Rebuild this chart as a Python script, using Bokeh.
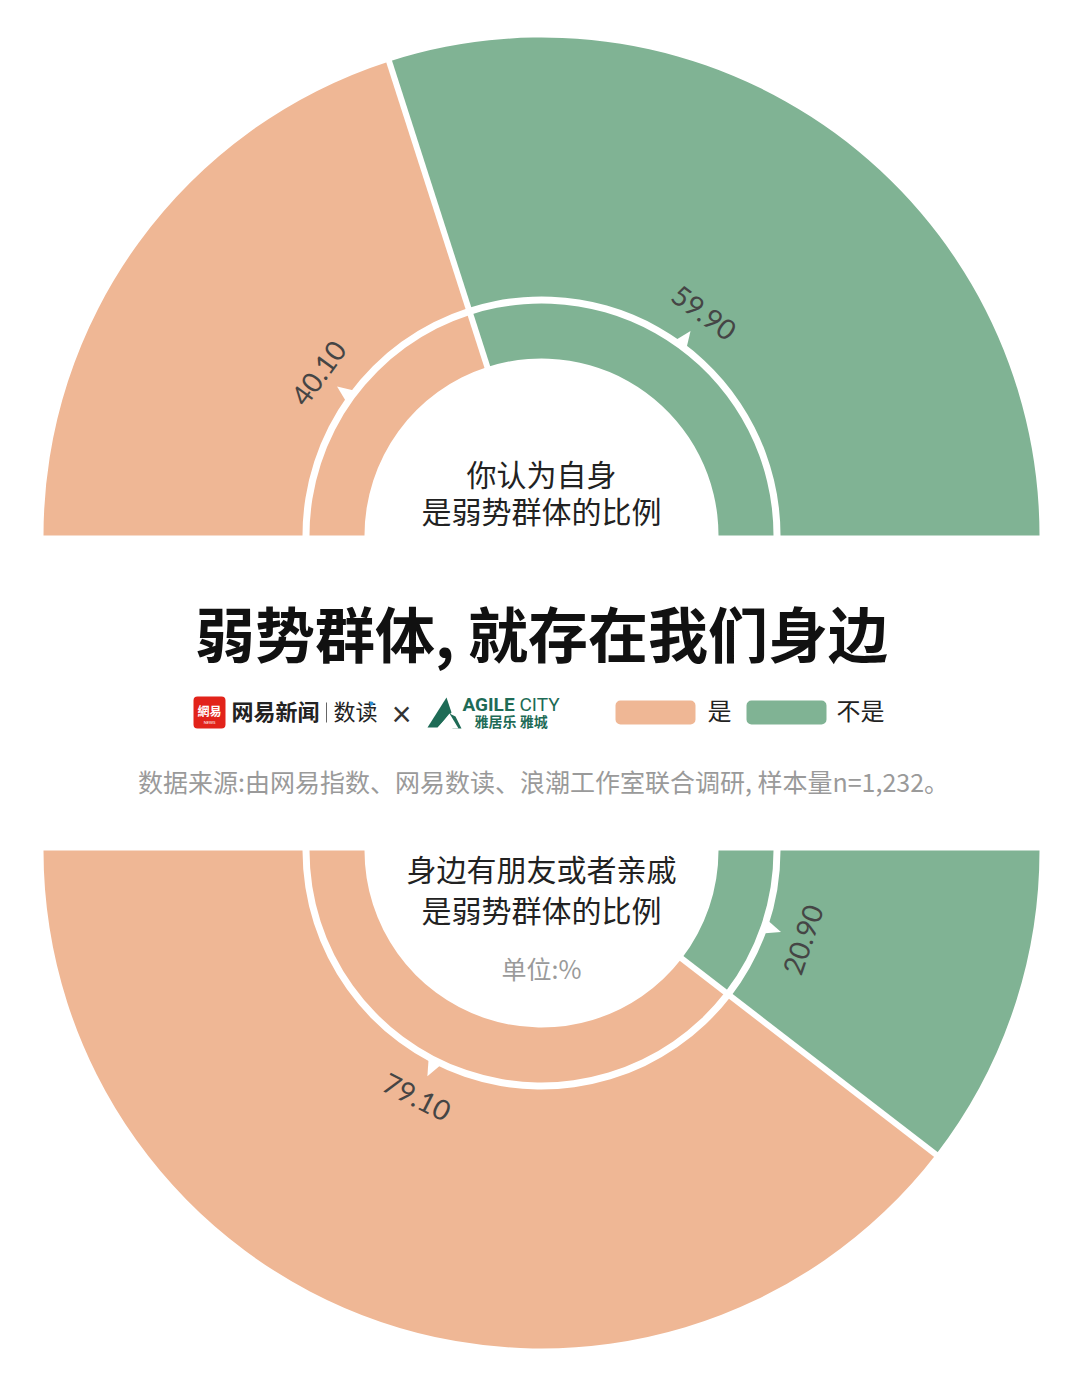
import math
from bokeh.plotting import figure
from bokeh.models import Range1d
from bokeh.core.properties import value
from bokeh.embed import file_html
from bokeh.resources import INLINE

# ---------------- data ----------------
categories = ["是", "不是"]
colors = ["#EFB795", "#80B394"]
q1_lines = ["你认为自身", "是弱势群体的比例"]
q1_values = [40.10, 59.90]
q2_lines = ["身边有朋友或者亲戚", "是弱势群体的比例"]
q2_values = [79.10, 20.90]
title = "弱势群体, 就存在我们身边"
source_text = "数据来源:由网易指数、网易数读、浪潮工作室联合调研, 样本量n=1,232。"
unit_text = "单位:%"

# ---------------- figure ----------------
W, H = 1064, 1371
PAGE_H = 1387


def Y(y):
    return PAGE_H - y


p = figure(width=W, height=H, x_range=Range1d(0, W), y_range=Range1d(PAGE_H - H, PAGE_H),
           output_backend="svg", toolbar_location=None, min_border=0,
           x_axis_location=None, y_axis_location=None)
p.xgrid.visible = False
p.ygrid.visible = False
p.outline_line_color = None
p.background_fill_color = "white"
p.border_fill_color = "white"

CJK = value("Noto Sans CJK SC")
NUM = value("Lato")

R_OUT, R_OUT_IN = 498, 239
R_IN, R_IN_IN = 232, 177
R_LABEL = 276


def donut(values, cx, cy, upper, shift):
    total = sum(values)
    cum = 0.0
    starts, ends, mids, bounds = [], [], [], []
    for v in values:
        a0 = cum / total * 180.0
        a1 = (cum + v) / total * 180.0
        if upper:
            s, e = 180.0 - a1, 180.0 - a0
        else:
            s, e = 180.0 + a0, 180.0 + a1
        starts.append(math.radians(s))
        ends.append(math.radians(e))
        mids.append((s + e) / 2.0)
        cum += v
    for i in range(len(values) - 1):
        bounds.append(ends[i] if not upper else starts[i])
    n = len(values)
    p.annular_wedge(x=[cx] * n, y=[cy] * n, inner_radius=R_OUT_IN, outer_radius=R_OUT,
                    start_angle=starts, end_angle=ends, fill_color=colors[:n], line_color=None)
    p.annular_wedge(x=[cx] * n, y=[cy] * n, inner_radius=R_IN_IN, outer_radius=R_IN,
                    start_angle=starts, end_angle=ends, fill_color=colors[:n], line_color=None)
    # white separators
    x0 = [cx + 160 * math.cos(b) for b in bounds]
    y0 = [cy + 160 * math.sin(b) for b in bounds]
    x1 = [cx + 510 * math.cos(b) for b in bounds]
    y1 = [cy + 510 * math.sin(b) for b in bounds]
    p.segment(x0=x0, y0=y0, x1=x1, y1=y1, line_color="white", line_width=6)
    # pointers and labels
    txs, tys, tangs, ttext = [], [], [], []
    pxs, pys = [], []
    for i, v in enumerate(values):
        th_deg = mids[i] + shift.get(i, 0.0)
        th = math.radians(th_deg)
        ux, uy = math.cos(th), math.sin(th)
        vx, vy = -uy, ux
        rb, rt, hw = 234, 253, 8
        pxs.append([cx + rb * ux + hw * vx, cx + rb * ux - hw * vx, cx + rt * ux])
        pys.append([cy + rb * uy + hw * vy, cy + rb * uy - hw * vy, cy + rt * uy])
        txs.append(cx + R_LABEL * ux)
        tys.append(cy + R_LABEL * uy)
        rot = th_deg - 90 if upper else th_deg + 90
        tangs.append(math.radians(rot))
        ttext.append(f"{v:.2f}")
    p.patches(xs=pxs, ys=pys, fill_color="white", line_color=None)
    p.text(x=txs, y=tys, text=ttext, angle=tangs, text_align="center",
           text_baseline="middle", text_font=NUM, text_font_size="28px",
           text_color="#454545")


# top donut
cx1, cy1 = 541, Y(535)
donut(q1_values, cx1, cy1, True, {})
p.text(x=[cx1, cx1], y=[Y(472), Y(509)], text=q1_lines, text_align="center",
       text_baseline="middle", text_font=CJK, text_font_size="30px", text_color="#222222")

# bottom donut
cx2, cy2 = 541, Y(850)
donut(q2_values, cx2, cy2, False, {0: -8.0})
p.text(x=[cx2, cx2], y=[Y(867), Y(908)], text=q2_lines, text_align="center",
       text_baseline="middle", text_font=CJK, text_font_size="30px", text_color="#222222")
p.text(x=[cx2], y=[Y(967)], text=[unit_text], text_align="center", text_baseline="middle",
       text_font=CJK, text_font_size="25px", text_color="#9a9a9a")

# title
p.text(x=[541], y=[Y(631)], text=[title], text_align="center", text_baseline="middle",
       text_font=CJK, text_font_size="60px", text_font_style="bold", text_color="#111111")

# source
p.text(x=[543], y=[Y(780)], text=[source_text], text_align="center", text_baseline="middle",
       text_font=CJK, text_font_size="25px", text_color="#9a9a9a")

# ---------------- logo row ----------------
ly = Y(712)
ty = Y(709)
# NetEase logo
p.rect(x=[209], y=[ly], width=24, height=24, fill_color="#E2231A", line_color="#E2231A",
       line_width=8, line_join="round")
p.text(x=[209], y=[ly + 2], text=["網易"], text_align="center", text_baseline="middle",
       text_font=CJK, text_font_size="12px", text_font_style="bold", text_color="white")
p.text(x=[209], y=[ly - 10], text=["NEWS"], text_align="center", text_baseline="middle",
       text_font=NUM, text_font_size="4px", text_color="white")
p.text(x=[231], y=[ty], text=["网易新闻"], text_align="left", text_baseline="middle",
       text_font=CJK, text_font_size="22px", text_font_style="bold", text_color="#222222")
p.segment(x0=[326], y0=[ly - 10], x1=[326], y1=[ly + 10], line_color="#666666", line_width=1)
p.text(x=[333], y=[ty], text=["数读"], text_align="left", text_baseline="middle",
       text_font=CJK, text_font_size="22px", text_color="#222222")
p.scatter(x=[371], y=[ly + 9], size=4, marker="circle", fill_color="#2a8fd6", line_color=None)
p.text(x=[401], y=[ly], text=["×"], text_align="center", text_baseline="middle",
       text_font=NUM, text_font_size="34px", text_color="#333333")
# Agile City logo (approximate shapes)
G = "#1E6B56"
p.patches(xs=[[427, 446, 451, 437], [447, 455, 461, 452], [437, 449, 458, 449]],
          ys=[[Y(727), Y(697), Y(712), Y(727)], [Y(712), Y(716), Y(728), Y(728)],
              [Y(728), Y(713), Y(728), Y(728)]],
          fill_color=[G, G, "white"], line_color=None)
p.text(x=[462], y=[Y(704)], text=["AGILE"], text_align="left", text_baseline="middle",
       text_font=value("Roboto"), text_font_size="19px", text_font_style="bold", text_color=G)
p.text(x=[519], y=[Y(704)], text=["CITY"], text_align="left", text_baseline="middle",
       text_font=value("Roboto"), text_font_size="19px", text_color=G)
p.text(x=[474], y=[Y(720)], text=["雅居乐 雅城"], text_align="left", text_baseline="middle",
       text_font=CJK, text_font_size="14px", text_font_style="bold", text_color=G)

# legend
sw_x = [655, 786]
txt_x = [707, 836]
p.rect(x=sw_x, y=[ly, ly], width=70, height=14, fill_color=colors, line_color=colors,
       line_width=10, line_join="round")
p.text(x=txt_x, y=[ty, ty], text=categories, text_align="left", text_baseline="middle",
       text_font=CJK, text_font_size="24px", text_color="#222222")

open("out.html", "w").write(file_html(p, INLINE))
